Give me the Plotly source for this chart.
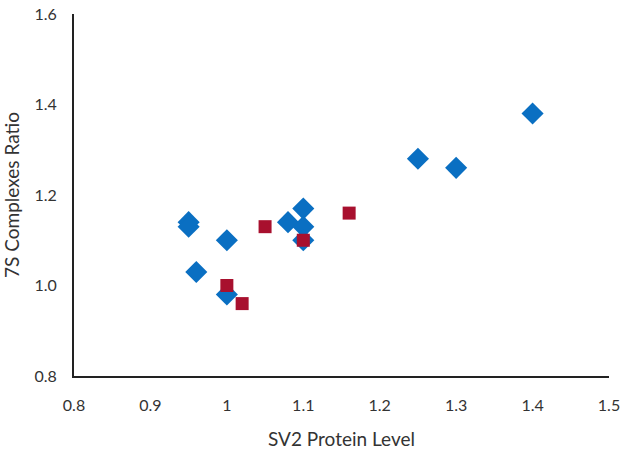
import plotly.graph_objects as go

blue_x = [0.95, 0.95, 0.96, 1.00, 1.00, 1.08, 1.10, 1.10, 1.10, 1.25, 1.30, 1.40]
blue_y = [1.14, 1.13, 1.03, 1.10, 0.98, 1.14, 1.17, 1.13, 1.10, 1.28, 1.26, 1.38]
red_x = [1.00, 1.02, 1.05, 1.10, 1.16]
red_y = [1.00, 0.96, 1.13, 1.10, 1.16]

x_ticks = [0.8, 0.9, 1.0, 1.1, 1.2, 1.3, 1.4, 1.5]
x_labels = ["0.8", "0.9", "1", "1.1", "1.2", "1.3", "1.4", "1.5"]
y_ticks = [0.8, 1.0, 1.2, 1.4, 1.6]
y_labels = ["0.8", "1.0", "1.2", "1.4", "1.6"]

fig = go.Figure()
fig.add_trace(go.Scatter(x=blue_x, y=blue_y, mode="markers",
                         marker=dict(symbol="diamond", size=17, color="#0a6fc2"),
                         showlegend=False, cliponaxis=False))
fig.add_trace(go.Scatter(x=red_x, y=red_y, mode="markers",
                         marker=dict(symbol="square", size=13, color="#a8102e"),
                         showlegend=False, cliponaxis=False))

font_family = "Lato, Open Sans, sans-serif"
fig.update_layout(
    width=624, height=450,
    margin=dict(l=74, r=15, t=14, b=74),
    plot_bgcolor="white", paper_bgcolor="white",
    font=dict(family=font_family, size=16, color="#333333"),
)
fig.update_xaxes(range=[0.8, 1.5], tickvals=x_ticks, ticktext=x_labels,
                 showgrid=False, zeroline=False, showline=True, linecolor="#222",
                 linewidth=2, ticks="", ticklabelstandoff=14, automargin=False,
                 ticklabeloverflow="allow",
                 title=dict(text="SV2 Protein Level", font=dict(size=19), standoff=22))
fig.update_yaxes(range=[0.8, 1.6], tickvals=y_ticks, ticktext=y_labels,
                 showgrid=False, zeroline=False, showline=True, linecolor="#222",
                 linewidth=2, ticks="", ticklabelstandoff=12, automargin=False,
                 ticklabeloverflow="allow",
                 title=dict(text="7S Complexes Ratio", font=dict(size=19), standoff=18))

# remove the page's default 8px body margin so the figure fills the window
fig.write_html("out.html", config={"displayModeBar": False},
               post_script="document.body.style.margin='0';")
